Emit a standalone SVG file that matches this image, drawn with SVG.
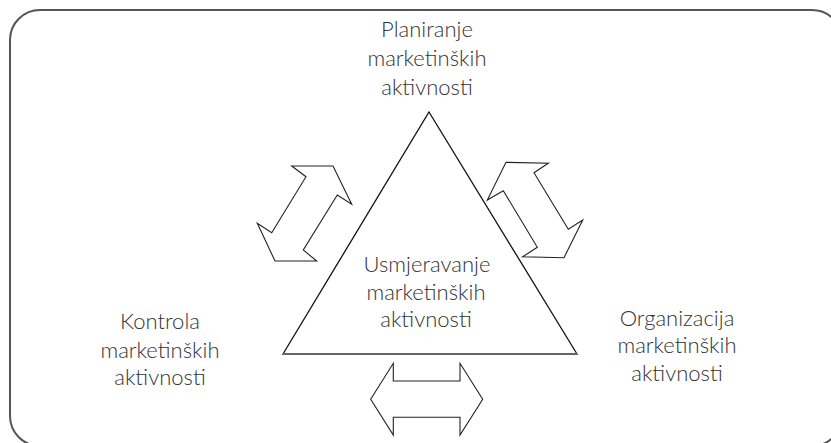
<svg xmlns="http://www.w3.org/2000/svg" width="831" height="443" viewBox="0 0 831 443">
<style>
.frame{fill:none;stroke:#555;stroke-width:2}
.tri{fill:#fff;stroke:#111;stroke-width:1.3;stroke-linejoin:miter}
.arr{fill:#fff;stroke:#222;stroke-width:1.1;stroke-linejoin:miter}
.lbl{font-family:Lato,"Open Sans","Liberation Sans",sans-serif;font-weight:300;font-size:22px;fill:#333;text-anchor:middle}
</style>
<rect width="831" height="443" fill="#fff"/>
<rect class="frame" x="10" y="10" width="832" height="436" rx="30" ry="30"/>
<g id="triangle">
<polygon class="tri" points="429,112 577,354 283,354"/>
<line x1="283" y1="354" x2="577" y2="354" stroke="#666" stroke-width="2"/>
</g>
<g id="connectors">
<polygon class="arr" points="291.7,166 333,166 351.7,204.3 337.3,195 303.3,250 316.7,261 275,261 257.3,223.3 271.7,232.7 306,176.7"/>
<polygon class="arr" points="506,162.3 548.3,163.3 534,172.7 568.3,229.3 582.7,220 564,257.7 522.7,256.7 537.3,247.3 503.3,190.7 487.3,200"/>
<polygon class="arr" points="393.3,363.3 393.3,381 460,381 460,363.3 482.7,399.3 460,435 460,417.3 393.3,417.3 393.3,435 370.7,399.3"/>
</g>
<g id="node-planiranje">
<text class="lbl" x="427" y="37">Planiranje</text>
<text class="lbl" x="427" y="66">marketinških</text>
<text class="lbl" x="427" y="95">aktivnosti</text>
</g>
<g id="node-usmjeravanje">
<text class="lbl" x="427" y="272">Usmjeravanje</text>
<text class="lbl" x="426" y="300">marketinških</text>
<text class="lbl" x="426" y="327">aktivnosti</text>
</g>
<g id="node-kontrola">
<text class="lbl" x="160" y="329">Kontrola</text>
<text class="lbl" x="160" y="358">marketinških</text>
<text class="lbl" x="160" y="385">aktivnosti</text>
</g>
<g id="node-organizacija">
<text class="lbl" x="677" y="326">Organizacija</text>
<text class="lbl" x="677" y="353">marketinških</text>
<text class="lbl" x="677" y="381">aktivnosti</text>
</g>
</svg>
